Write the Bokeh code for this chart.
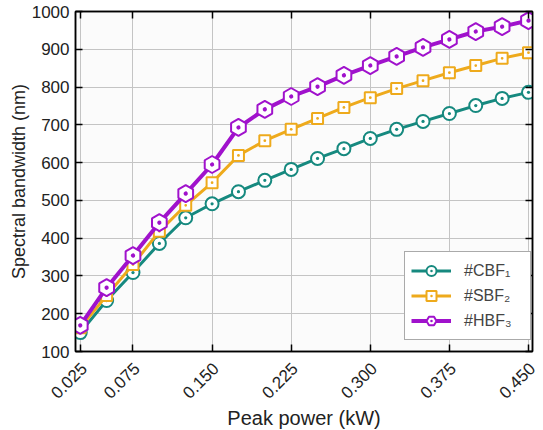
import math
from bokeh.plotting import figure
from bokeh.models import (LinearAxis, FixedTicker, CustomJSTickFormatter,
                          Range1d, Legend, LegendItem)
from bokeh.embed import file_html
from bokeh.resources import INLINE

power = [0.025, 0.05, 0.075, 0.1, 0.125, 0.15, 0.175, 0.2, 0.225, 0.25,
         0.275, 0.3, 0.325, 0.35, 0.375, 0.4, 0.425, 0.45]
cbf1 = [150, 235, 309, 386, 454, 491, 523, 553, 582, 611, 637, 664, 688, 709, 730, 751, 770, 786]
sbf2 = [163, 248, 330, 418, 487, 547, 619, 658, 688, 717, 746, 772, 796, 817, 838, 857, 876, 891]
hbf3 = [169, 269, 354, 441, 518, 595, 693, 741, 775, 801, 831, 857, 881, 905, 926, 947, 960, 976]
x_ticks = [0.025, 0.075, 0.150, 0.225, 0.300, 0.375, 0.450]
x_tick_labels = ["0.025", "0.075", "0.150", "0.225", "0.300", "0.375", "0.450"]
y_ticks = [100, 200, 300, 400, 500, 600, 700, 800, 900, 1000]
labels = ["#CBF\u2081", "#SBF\u2082", "#HBF\u2083"]

FONT = "Liberation Sans"
teal = "#16897f"
gold = "#eeaa1c"
purple = "#a012cc"
TXT = "#222222"

X0, X1 = 0.0205, 0.4538
FW, FH = 457, 340
shift = 3.6 * (X1 - X0) / FW   # label row sits a little to the right of the ticks

p = figure(width=541, height=426, output_backend="svg", toolbar_location=None,
           x_range=Range1d(X0, X1), y_range=Range1d(100, 1000),
           frame_width=FW, frame_height=FH,
           min_border_left=75, min_border_right=9, min_border_top=11, min_border_bottom=75,
           background_fill_color="#fbfbfb", border_fill_color="white")
p.extra_x_ranges = {"lab": Range1d(X0 - shift, X1 - shift)}
p.outline_line_color = "black"
p.outline_line_width = 1.5

blank = CustomJSTickFormatter(code="return ''")

def tick_style(ax):
    ax.major_tick_in = 7
    ax.major_tick_out = 0
    ax.minor_tick_in = 0
    ax.minor_tick_out = 0
    ax.axis_line_width = 1.5
    ax.major_tick_line_width = 1.5

p.xaxis.ticker = FixedTicker(ticks=x_ticks)
p.xaxis.formatter = blank
p.xaxis.major_label_standoff = 0
tick_style(p.xaxis[0])

p.yaxis.ticker = FixedTicker(ticks=y_ticks)
tick_style(p.yaxis[0])
p.yaxis.axis_label = "Spectral bandwidth (nm)"
p.yaxis.major_label_text_font = FONT
p.yaxis.major_label_text_font_size = "17px"
p.yaxis.major_label_text_color = TXT
p.yaxis.axis_label_text_font = FONT
p.yaxis.axis_label_text_font_size = "18px"
p.yaxis.axis_label_text_font_style = "normal"
p.yaxis.axis_label_text_color = TXT
p.yaxis.major_label_standoff = 6
p.yaxis.axis_label_standoff = 0

lab_axis = LinearAxis(x_range_name="lab", ticker=FixedTicker(ticks=x_ticks),
                      major_label_overrides={t: s for t, s in zip(x_ticks, x_tick_labels)},
                      major_label_orientation=math.pi / 4, major_label_standoff=8,
                      major_tick_line_color=None, minor_tick_line_color=None,
                      axis_line_color=None,
                      major_label_text_font=FONT, major_label_text_font_size="17px",
                      major_label_text_color=TXT,
                      axis_label="Peak power (kW)", axis_label_standoff=0,
                      axis_label_text_font=FONT, axis_label_text_font_size="20px",
                      axis_label_text_font_style="normal", axis_label_text_color=TXT)
p.add_layout(lab_axis, "below")

top = LinearAxis(ticker=FixedTicker(ticks=x_ticks), formatter=blank, major_label_standoff=0)
right = LinearAxis(ticker=FixedTicker(ticks=y_ticks), formatter=blank, major_label_standoff=0)
tick_style(top)
tick_style(right)
p.add_layout(top, "above")
p.add_layout(right, "right")

p.xgrid.ticker = FixedTicker(ticks=x_ticks)
p.ygrid.ticker = FixedTicker(ticks=y_ticks)
p.grid.grid_line_color = "#c4c4c4"
p.grid.grid_line_width = 1

items = []
specs = [(cbf1, teal, "circle_dot", 13, 0, 3),
         (sbf2, gold, "square_dot", 11, 0, 3),
         (hbf3, purple, "hex_dot", 17, math.pi / 6, 4)]
for ys, col, mk, sz, ang, lw in specs:
    r1 = p.line(power, ys, line_color=col, line_width=lw)
    r2 = p.scatter(power, ys, marker=mk, size=sz, angle=ang, line_color=col,
                   line_width=2, fill_color="white")
    items.append((r1, r2))

legend = Legend(items=[LegendItem(label=labels[i], renderers=list(items[i])) for i in range(3)],
                location=(329, 11), label_text_font=FONT, label_text_font_size="16px",
                glyph_width=40, glyph_height=25, label_height=25, label_width=60, spacing=0,
                label_standoff=13, padding=6, margin=0,
                border_line_color="#555555", border_line_width=1.2,
                background_fill_color="white", background_fill_alpha=1)
p.add_layout(legend)

open("out.html", "w").write(file_html(p, INLINE))
